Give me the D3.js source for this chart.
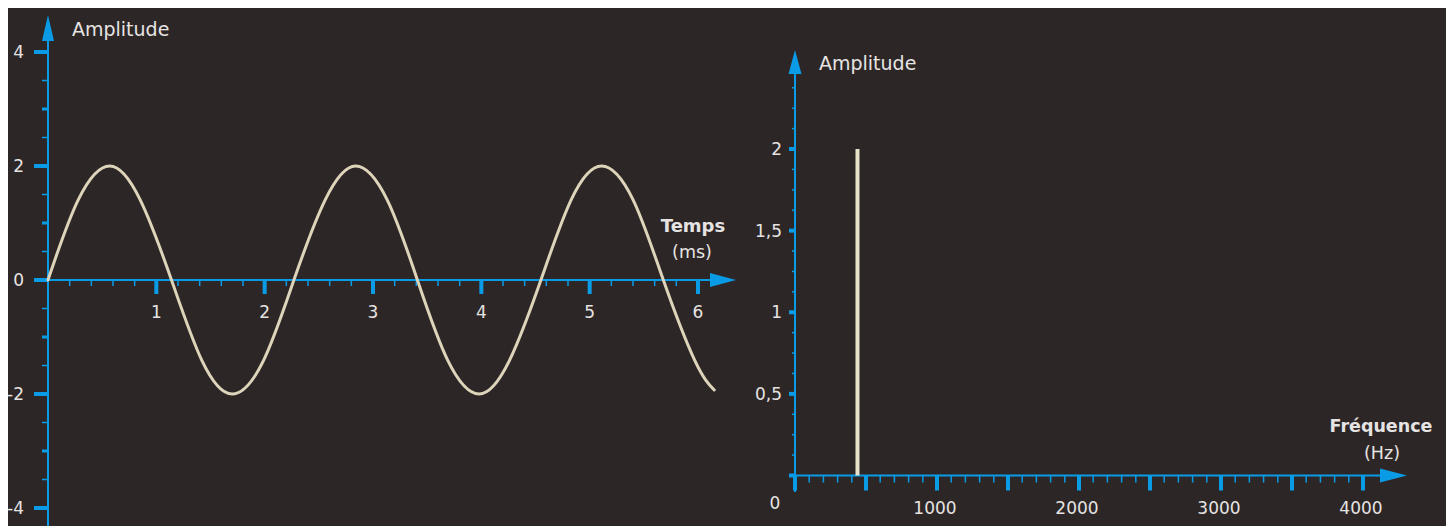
<!DOCTYPE html>
<html>
<head>
<meta charset="utf-8">
<script src="https://cdn.jsdelivr.net/npm/d3@7"></script>
<style>
  html, body { margin: 0; padding: 0; background: #ffffff; }
  svg { display: block; }
  text { font-family: "DejaVu Sans", sans-serif; fill: #e6e4e2; }
</style>
</head>
<body>
<svg id="chart" width="1456" height="526"></svg>
<script>
// ---- Data ----
// Time signal: time (ms) and amplitude at successive eighth-period points
const timeMs = [0, 0.28, 0.57, 0.85, 1.14, 1.42, 1.70, 1.99, 2.27, 2.56, 2.84, 3.13, 3.41, 3.69, 3.98, 4.26, 4.55, 4.83, 5.11, 5.40, 5.68, 5.97, 6.15];
const amplitude = [0, 1.41, 2, 1.41, 0, -1.41, -2, -1.41, 0, 1.41, 2, 1.41, 0, -1.41, -2, -1.41, 0, 1.41, 2, 1.41, 0, -1.41, -1.93];
// Spectrum
const freqHz = [440];
const freqAmp = [2];
// Tick labels
const leftXTicks = [1, 2, 3, 4, 5, 6];
const leftYTicks = [4, 2, 0, -2, -4];
const rightXTicks = [1000, 2000, 3000, 4000];
const rightYTicks = [0.5, 1, 1.5, 2];
const rightYLabels = ["0,5", "1", "1,5", "2"];

const BLUE = "#0a9be6";
const BG = "#2d2627";
const CURVE = "#ddd4b9";
const SPIKE = "#e6e1c8";

const svg = d3.select("#chart");
svg.append("rect").attr("x", 8).attr("y", 8).attr("width", 1438).attr("height", 518).attr("fill", BG);

// ================= LEFT CHART =================
const xL = d3.scaleLinear().domain([0, 6]).range([48, 698]);
const yL = d3.scaleLinear().domain([-4, 4]).range([508, 52]);
const gL = svg.append("g");

// y axis line + arrow
gL.append("line").attr("x1", xL(0)).attr("x2", xL(0)).attr("y1", 36).attr("y2", 526)
  .attr("stroke", BLUE).attr("stroke-width", 2);
gL.append("path").attr("d", `M${xL(0)},15 L${xL(0)-6},41 L${xL(0)+6},41 Z`).attr("fill", BLUE);

// y ticks every 0.5
d3.range(-4, 4.01, 0.5).forEach(v => {
  const even = Math.abs(v) % 2 === 0;
  const odd = !even && Number.isInteger(v);
  const len = even ? 14 : 6;
  const th = even ? 4 : (odd ? 3 : 1.5);
  gL.append("rect").attr("x", xL(0) - len).attr("y", yL(v) - th / 2)
    .attr("width", len).attr("height", th).attr("fill", BLUE);
});
leftYTicks.forEach(v => {
  gL.append("text").attr("x", 24).attr("y", yL(v)).attr("dy", "0.36em")
    .attr("text-anchor", "end").attr("font-size", 17).text(v);
});

// x axis line + arrow
gL.append("line").attr("x1", xL(0)).attr("x2", 715).attr("y1", yL(0)).attr("y2", yL(0))
  .attr("stroke", BLUE).attr("stroke-width", 2);
gL.append("path").attr("d", `M736,${yL(0)} L710,${yL(0)-7} L710,${yL(0)+7} Z`).attr("fill", BLUE);

// x ticks every 0.2 ms
d3.range(0.2, 6.01, 0.2).forEach(v => {
  const major = Math.abs(v - Math.round(v)) < 1e-6;
  const len = major ? 14 : 6;
  const th = major ? 4 : 1.5;
  gL.append("rect").attr("x", xL(v) - th / 2).attr("y", yL(0))
    .attr("width", th).attr("height", len).attr("fill", BLUE);
});
leftXTicks.forEach(v => {
  gL.append("text").attr("x", xL(v)).attr("y", 318)
    .attr("text-anchor", "middle").attr("font-size", 17).text(v);
});

// sine curve
const pts = timeMs.map((t, i) => [t, amplitude[i]]);
gL.append("path").datum(pts)
  .attr("d", d3.line().x(d => xL(d[0])).y(d => yL(d[1])).curve(d3.curveNatural))
  .attr("fill", "none").attr("stroke", CURVE).attr("stroke-width", 3).attr("stroke-linecap", "round");

// labels
gL.append("text").attr("x", 72).attr("y", 36).attr("font-size", 19).text("Amplitude");
gL.append("text").attr("x", 693).attr("y", 232).attr("text-anchor", "middle")
  .attr("font-size", 18).attr("font-weight", "bold").text("Temps");
gL.append("text").attr("x", 692).attr("y", 258).attr("text-anchor", "middle")
  .attr("font-size", 17.5).text("(ms)");

// ================= RIGHT CHART =================
const xR = d3.scaleLinear().domain([0, 4000]).range([795, 1363]);
const yR = d3.scaleLinear().domain([0, 2]).range([475.5, 149]);
const gR = svg.append("g");

// y axis + arrow
gR.append("line").attr("x1", xR(0)).attr("x2", xR(0)).attr("y1", 70).attr("y2", 492)
  .attr("stroke", BLUE).attr("stroke-width", 2);
gR.append("path").attr("d", `M${xR(0)},50 L${xR(0)-6.5},74 L${xR(0)+6.5},74 Z`).attr("fill", BLUE);

// y ticks every 0.125
d3.range(0, 2.376, 0.125).forEach(v => {
  const major = Math.abs(v * 2 - Math.round(v * 2)) < 1e-6;
  const len = major ? 6 : 3;
  const th = major ? 4 : 1.5;
  gR.append("rect").attr("x", xR(0) - len).attr("y", yR(v) - th / 2)
    .attr("width", len).attr("height", th).attr("fill", BLUE);
});
rightYTicks.forEach((v, i) => {
  gR.append("text").attr("x", 782).attr("y", yR(v)).attr("dy", "0.36em")
    .attr("text-anchor", "end").attr("font-size", 17).text(rightYLabels[i]);
});
gR.append("text").attr("x", 775).attr("y", 503).attr("dy", "0.36em")
  .attr("text-anchor", "middle").attr("font-size", 17).text("0");

// x axis + arrow
gR.append("line").attr("x1", xR(0)).attr("x2", 1385).attr("y1", yR(0)).attr("y2", yR(0))
  .attr("stroke", BLUE).attr("stroke-width", 2);
gR.append("path").attr("d", `M1407,${yR(0)} L1380,${yR(0)-7} L1380,${yR(0)+7} Z`).attr("fill", BLUE);

// x ticks every 100 Hz
d3.range(0, 4001, 100).forEach(v => {
  const major = v % 500 === 0;
  const len = major ? 15 : 7;
  const th = major ? 4 : 1.5;
  gR.append("rect").attr("x", xR(v) - th / 2).attr("y", yR(0))
    .attr("width", th).attr("height", len).attr("fill", BLUE);
});
rightXTicks.forEach(v => {
  gR.append("text").attr("x", xR(v) - 2).attr("y", 514)
    .attr("text-anchor", "middle").attr("font-size", 17).text(v);
});

// spectrum line
freqHz.forEach((f, i) => {
  gR.append("line").attr("x1", xR(f)).attr("x2", xR(f))
    .attr("y1", yR(0)).attr("y2", yR(freqAmp[i]))
    .attr("stroke", SPIKE).attr("stroke-width", 4);
});

// labels
gR.append("text").attr("x", 819).attr("y", 70).attr("font-size", 19).text("Amplitude");
gR.append("text").attr("x", 1381).attr("y", 432).attr("text-anchor", "middle")
  .attr("font-size", 17.5).attr("font-weight", "bold").text("Fréquence");
gR.append("text").attr("x", 1382).attr("y", 459).attr("text-anchor", "middle")
  .attr("font-size", 17.5).text("(Hz)");
</script>
</body>
</html>
